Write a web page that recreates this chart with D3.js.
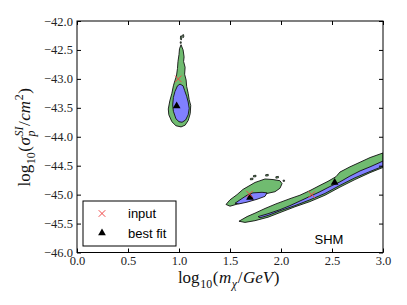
<!DOCTYPE html>
<html>
<head>
<meta charset="utf-8">
<script src="https://cdn.jsdelivr.net/npm/d3@7"></script>
<style>
  body { margin: 0; background: #fff; }
  svg { display: block; }
</style>
</head>
<body>
<div class="chart"></div>
<script>
// axis ticks
const xTicks = [0.0, 0.5, 1.0, 1.5, 2.0, 2.5, 3.0];
const yTicks = [-42.0, -42.5, -43.0, -43.5, -44.0, -44.5, -45.0, -45.5, -46.0];

// contour regions [log10 m, log10 sigma]
const region1Outer = [[1.02,-42.41],[1.04,-42.50],[1.05,-42.62],[1.045,-42.70],[1.06,-42.80],[1.055,-42.92],[1.07,-43.02],[1.075,-43.13],[1.09,-43.25],[1.10,-43.36],[1.115,-43.46],[1.11,-43.60],[1.09,-43.72],[1.06,-43.80],[1.02,-43.83],[0.97,-43.81],[0.93,-43.74],[0.90,-43.62],[0.895,-43.52],[0.91,-43.38],[0.93,-43.25],[0.945,-43.12],[0.96,-43.03],[0.975,-42.95],[0.985,-42.82],[0.99,-42.70],[1.00,-42.58],[1.005,-42.48]];
const region1Inner = [[1.01,-43.09],[0.985,-43.12],[0.96,-43.22],[0.945,-43.32],[0.938,-43.45],[0.945,-43.56],[0.97,-43.69],[1.00,-43.74],[1.03,-43.75],[1.065,-43.71],[1.09,-43.62],[1.10,-43.51],[1.09,-43.40],[1.075,-43.30],[1.055,-43.20],[1.04,-43.12]];

const region2Outer = [[1.461,-45.17],[1.50,-45.20],[1.598,-45.15],[1.696,-45.08],[1.775,-45.03],[1.863,-44.98],[1.941,-44.95],[1.99,-44.89],[2.01,-44.81],[1.99,-44.76],[1.922,-44.74],[1.843,-44.73],[1.794,-44.76],[1.745,-44.79],[1.696,-44.84],[1.627,-44.91],[1.569,-45.00],[1.50,-45.09]];
const region2Inner = [[1.549,-45.15],[1.598,-45.09],[1.667,-45.01],[1.725,-44.97],[1.814,-44.96],[1.863,-44.97],[1.843,-45.03],[1.765,-45.08],[1.667,-45.13],[1.588,-45.16]];

const region3Outer = [[1.588,-45.46],[1.667,-45.38],[1.745,-45.32],[1.843,-45.24],[1.951,-45.16],[2.088,-45.07],[2.186,-45.01],[2.284,-44.93],[2.382,-44.84],[2.461,-44.77],[2.539,-44.69],[2.578,-44.61],[2.676,-44.52],[2.775,-44.44],[2.873,-44.36],[3.0,-44.28],[3.0,-44.53],[2.873,-44.62],[2.725,-44.74],[2.578,-44.87],[2.431,-45.01],[2.284,-45.12],[2.137,-45.21],[1.99,-45.31],[1.873,-45.39],[1.745,-45.45],[1.647,-45.48]];
const region3Inner = [[1.775,-45.38],[1.873,-45.33],[1.99,-45.26],[2.088,-45.19],[2.186,-45.11],[2.284,-45.03],[2.382,-44.95],[2.48,-44.86],[2.578,-44.78],[2.676,-44.68],[2.775,-44.59],[2.873,-44.52],[3.0,-44.42],[3.0,-44.51],[2.873,-44.60],[2.725,-44.71],[2.578,-44.84],[2.431,-44.98],[2.284,-45.09],[2.137,-45.19],[1.99,-45.28],[1.873,-45.36],[1.794,-45.40]];

const islands = [
  [[1.015,-42.26],[1.025,-42.255],[1.028,-42.29],[1.022,-42.33],[1.014,-42.31]],
  [[1.035,-42.24],[1.045,-42.235],[1.047,-42.27],[1.04,-42.29]],
  [[1.012,-42.36],[1.022,-42.36],[1.022,-42.385],[1.012,-42.385]],
  [[1.70,-44.72],[1.725,-44.715],[1.725,-44.74],[1.70,-44.745]],
  [[1.73,-44.67],[1.755,-44.665],[1.755,-44.69],[1.73,-44.695]],
  [[1.85,-44.655],[1.875,-44.65],[1.875,-44.675],[1.85,-44.68]],
  [[1.95,-44.69],[1.975,-44.685],[1.975,-44.71],[1.95,-44.715]],
  [[2.02,-44.75],[2.035,-44.75],[2.035,-44.77],[2.02,-44.77]]
];

const inputPts = [[0.993,-43.0],[1.691,-44.99],[2.301,-45.0]];
const bestFitPts = [[0.977,-43.47],[1.696,-45.05],[2.526,-44.79]];
const legendItems = ["input", "best fit"];

const width = 407, height = 305;
const pLeft = 77, pRight = 383, pTop = 21, pBottom = 252.5;

const svg = d3.select(".chart").append("svg")
  .attr("width", width).attr("height", height)
  .attr("viewBox", [0, 0, width, height]);

const x = d3.scaleLinear().domain([0, 3]).range([pLeft, pRight]);
const y = d3.scaleLinear().domain([-46, -42]).range([pBottom, pTop]);

svg.append("clipPath").attr("id", "clip")
  .append("rect").attr("x", pLeft).attr("y", pTop)
  .attr("width", pRight - pLeft).attr("height", pBottom - pTop);

const line = d3.line().x(d => x(d[0])).y(d => y(d[1])).curve(d3.curveLinearClosed);
const plot = svg.append("g").attr("clip-path", "url(#clip)");

const green = "#70bb70", blue = "#8080ff";

plot.selectAll("path.outer")
  .data([region1Outer, region2Outer, region3Outer])
  .join("path").attr("class", "outer")
  .attr("d", line).attr("fill", green)
  .attr("stroke", "#111").attr("stroke-width", 0.9);

plot.selectAll("path.inner")
  .data([region1Inner, region2Inner, region3Inner])
  .join("path").attr("class", "inner")
  .attr("d", line).attr("fill", blue)
  .attr("stroke", "#111").attr("stroke-width", 0.9);

plot.selectAll("path.island")
  .data(islands)
  .join("path").attr("class", "island")
  .attr("d", line).attr("fill", green)
  .attr("stroke", "#111").attr("stroke-width", 0.8);

// markers
const tri = d3.symbol(d3.symbolTriangle).size(26);
const xMark = d3.symbol(d3.symbolTimes).size(30);

function drawX(g, px, py) {
  g.append("path").attr("d", xMark())
    .attr("transform", `translate(${px},${py})`)
    .attr("fill", "none").attr("stroke", "#f04848").attr("stroke-width", 1);
}
function drawTri(g, px, py) {
  g.append("path").attr("d", tri())
    .attr("transform", `translate(${px},${py})`)
    .attr("fill", "#000");
}

bestFitPts.forEach(d => drawTri(plot, x(d[0]), y(d[1])));
inputPts.forEach(d => drawX(plot, x(d[0]), y(d[1])));

// axes, ticks inward on all four sides
const fmt = d3.format(".1f");
svg.append("g").attr("transform", `translate(0,${pBottom})`)
  .call(d3.axisBottom(x).tickValues(xTicks).tickFormat(fmt).tickSizeInner(-4).tickSizeOuter(0).tickPadding(4));
svg.append("g").attr("transform", `translate(${pLeft},0)`)
  .call(d3.axisLeft(y).tickValues(yTicks).tickFormat(fmt).tickSizeInner(-4).tickSizeOuter(0).tickPadding(4));
svg.append("g").attr("transform", `translate(0,${pTop})`)
  .call(d3.axisTop(x).tickValues(xTicks).tickFormat("").tickSizeInner(-4).tickSizeOuter(0));
svg.append("g").attr("transform", `translate(${pRight},0)`)
  .call(d3.axisRight(y).tickValues(yTicks).tickFormat("").tickSizeInner(-4).tickSizeOuter(0));

svg.selectAll(".domain").remove();
svg.selectAll(".tick text")
  .attr("font-family", "'Liberation Serif', serif")
  .attr("font-size", 12.5).attr("fill", "#222");
svg.selectAll(".tick line").attr("stroke", "#000");

svg.append("rect").attr("x", pLeft).attr("y", pTop)
  .attr("width", pRight - pLeft).attr("height", pBottom - pTop)
  .attr("fill", "none").attr("stroke", "#000").attr("stroke-width", 1);

// math style axis labels
function mathText(parent, runs, size) {
  const g = parent.append("g")
    .attr("font-family", "'Liberation Serif', serif").attr("fill", "#111");
  let pos = 0, lastStart = 0;
  runs.forEach(r => {
    const fs = r.small ? size * 0.7 : size;
    const x0 = r.stack ? lastStart : pos;
    const t = g.append("text").attr("x", x0).attr("y", (r.dy || 0) * size)
      .attr("font-size", fs).attr("font-style", r.it ? "italic" : "normal").text(r.t);
    const w = t.node().getComputedTextLength();
    if (!r.stack) lastStart = x0;
    pos = Math.max(pos, x0 + w + 0.6);
  });
  g.selectAll("text").attr("x", function() { return +this.getAttribute("x") - pos / 2; });
  return g;
}

mathText(svg.append("g").attr("transform", "translate(229,283)"), [
  {t: "log"}, {t: "10", small: true, dy: 0.28}, {t: "("}, {t: "m", it: true},
  {t: "χ", it: true, small: true, dy: 0.28}, {t: "/"}, {t: "GeV", it: true}, {t: ")"}
], 17);

mathText(svg.append("g").attr("transform", "translate(30,137) rotate(-90)"), [
  {t: "log"}, {t: "10", small: true, dy: 0.28}, {t: "("}, {t: "σ", it: true},
  {t: "SI", it: true, small: true, dy: -0.42}, {t: "p", it: true, small: true, dy: 0.3, stack: true},
  {t: "/"}, {t: "cm", it: true}, {t: "2", small: true, dy: -0.42}, {t: ")"}
], 17);

// legend
const leg = svg.append("g");
leg.append("rect").attr("x", 83).attr("y", 201).attr("width", 93).attr("height", 45)
  .attr("fill", "#fff").attr("stroke", "#000").attr("stroke-width", 1);
legendItems.forEach((name, i) => {
  const cy = 213.5 + i * 19.5;
  if (i === 0) drawX(leg, 102, cy); else drawTri(leg, 102, cy);
  leg.append("text").attr("x", 128).attr("y", cy + 4.5)
    .attr("font-family", "'Liberation Sans', Arial, sans-serif").attr("font-size", 13)
    .attr("fill", "#000").text(name);
});

svg.append("text").attr("x", 329).attr("y", 244).attr("text-anchor", "middle")
  .attr("font-family", "'Liberation Sans', Arial, sans-serif").attr("font-size", 13)
  .attr("fill", "#000").text("SHM");
</script>
</body>
</html>
